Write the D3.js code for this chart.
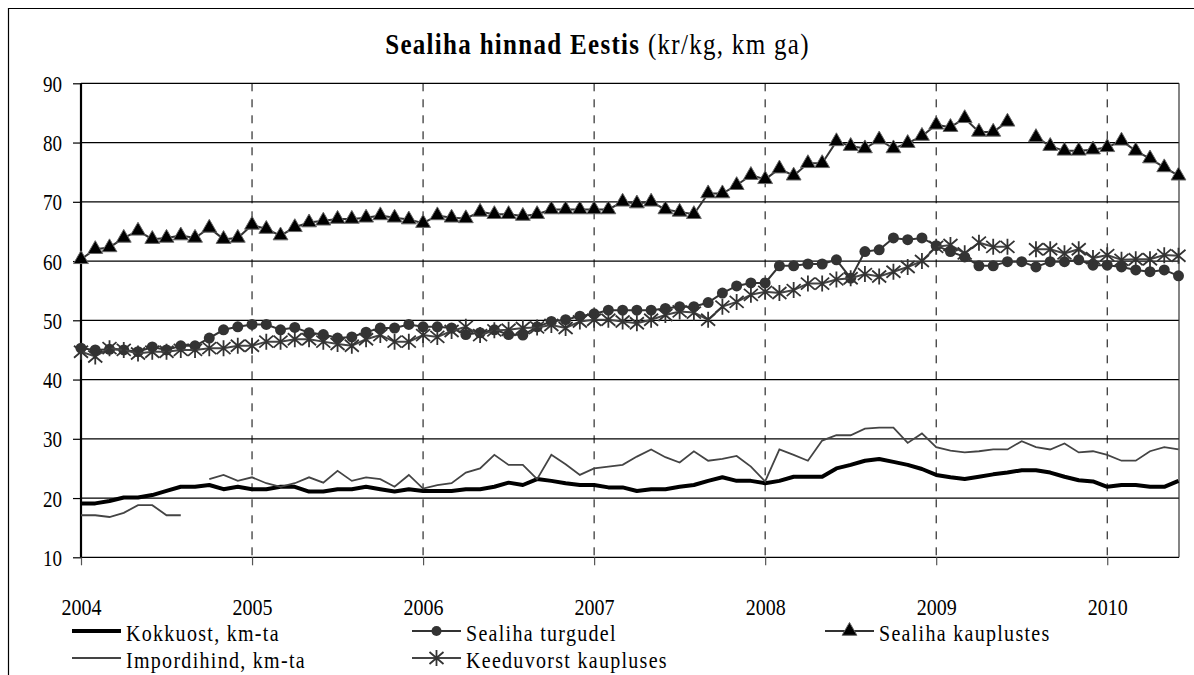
<!DOCTYPE html>
<html>
<head>
<meta charset="utf-8">
<script src="https://cdn.jsdelivr.net/npm/d3@7"></script>
<style>
  html, body { margin: 0; padding: 0; background: #fff; }
  svg { display: block; }
  text { font-family: "Liberation Serif", "Times New Roman", serif; fill: #000; }
</style>
</head>
<body>
<svg id="chart" width="1194" height="675"></svg>
<script>
// ---- data (monthly, Jan 2004 .. Jun 2010) ----
const startYear = 2004;
const yearLabels = ["2004", "2005", "2006", "2007", "2008", "2009", "2010"];
const yTicks = [10, 20, 30, 40, 50, 60, 70, 80, 90];

const kokkuost = [19.1,19.1,19.5,20.1,20.1,20.5,21.2,21.9,21.9,22.2,21.5,21.9,
  21.5,21.5,21.9,21.9,21.1,21.1,21.5,21.5,21.9,21.5,21.1,21.5,
  21.2,21.2,21.2,21.5,21.5,21.9,22.6,22.2,23.2,22.9,22.5,22.2,
  22.2,21.8,21.8,21.2,21.5,21.5,21.9,22.2,22.9,23.5,22.9,22.9,
  22.5,22.9,23.6,23.6,23.6,25.0,25.6,26.3,26.6,26.1,25.6,24.9,
  23.9,23.5,23.2,23.6,24.0,24.3,24.7,24.7,24.3,23.6,23.0,22.8,
  21.9,22.2,22.2,21.9,21.9,22.9];

const impordihind = [17.1,17.1,16.8,17.5,18.8,18.8,17.1,17.1,null,23.2,23.9,22.9,
  23.5,22.5,21.9,22.5,23.5,22.6,24.6,22.9,23.5,23.2,21.9,23.9,
  21.6,22.2,22.5,24.3,25.0,27.3,25.6,25.6,23.2,27.3,25.7,23.9,
  25.0,25.3,25.6,27.0,28.2,26.9,26.0,27.9,26.3,26.6,27.1,25.3,
  22.8,28.2,27.3,26.3,29.7,30.6,30.6,31.7,31.9,31.9,29.3,30.9,
  28.6,28.0,27.7,27.9,28.2,28.2,29.6,28.6,28.2,29.2,27.7,27.9,
  27.3,26.3,26.3,27.9,28.6,28.2];

const turgudel = [45.3,45.0,45.1,45.0,44.7,45.5,45.0,45.7,45.7,47.0,48.4,48.9,
  49.3,49.3,48.4,48.8,47.9,47.6,47.0,47.2,48.0,48.7,48.7,49.3,
  48.9,48.9,48.7,47.6,47.9,48.4,47.6,47.5,48.9,49.8,50.1,50.7,
  51.1,51.7,51.7,51.7,51.7,52.0,52.3,52.3,53.0,54.6,55.8,56.3,
  56.3,59.2,59.2,59.5,59.5,60.2,57.1,61.6,61.9,63.9,63.6,63.9,
  62.6,61.6,60.7,59.2,59.2,59.9,59.9,59.0,59.9,59.9,60.2,59.3,
  59.3,59.0,58.5,58.2,58.5,57.5];

const kauplustes = [60.3,62.0,62.3,63.9,65.1,63.7,63.9,64.3,63.9,65.6,63.7,63.9,
  66.1,65.4,64.3,65.7,66.5,66.8,67.1,67.1,67.3,67.7,67.3,67.0,
  66.4,67.7,67.3,67.2,68.3,67.9,67.9,67.6,67.9,68.7,68.7,68.7,
  68.7,68.7,70.0,69.7,70.0,68.7,68.3,67.9,71.4,71.4,72.8,74.5,
  73.8,75.6,74.4,76.5,76.5,80.2,79.4,79.0,80.5,79.0,79.9,81.1,
  83.0,82.6,84.1,81.8,81.8,83.5,null,80.9,79.4,78.6,78.6,78.8,
  79.2,80.3,78.6,77.3,75.8,74.4];

const keeduvorst = [44.7,43.9,45.3,45.0,44.4,44.7,44.7,45.0,45.0,45.3,45.3,45.7,
  45.7,46.4,46.4,46.8,46.8,46.4,46.0,45.7,46.8,47.5,46.4,46.4,
  47.5,47.2,48.2,48.9,47.5,48.3,48.4,48.7,48.8,49.2,48.7,49.8,
  50.1,50.1,49.8,49.5,50.1,50.9,51.5,51.3,50.1,52.3,53.1,54.3,
  54.8,54.6,55.1,56.2,56.2,56.9,57.1,57.8,57.4,58.2,59.0,60.0,
  62.4,62.7,61.3,63.1,62.4,62.4,null,62.0,62.0,61.3,62.0,60.5,
  61.0,60.2,60.3,60.3,61.0,60.9];

const seriesNames = ["Kokkuost, km-ta", "Sealiha turgudel", "Sealiha kauplustes",
                     "Impordihind, km-ta", "Keeduvorst kaupluses"];

// ---- layout ----
const svg = d3.select("#chart");
const L = 81, R = 1178.5, T = 83.3, B = 557.3;
const nMonths = kokkuost.length;

const x = d3.scaleLinear().domain([0, nMonths - 1]).range([L, R]);
const y = d3.scaleLinear().domain([10, 90]).range([B, T]);

// outer frame (left & top visible)
svg.append("path").attr("d", "M8.5,700 V8.5 H1200")
  .attr("fill", "none").attr("stroke", "#000").attr("stroke-width", 1.2);

// helper for stretched serif text
function stext(parent, tx, ty, str, opts) {
  opts = opts || {};
  const t = parent.append("text")
    .attr("transform", `translate(${tx},${ty}) scale(1,${opts.sy || 1.22})`)
    .attr("text-anchor", opts.anchor || "start")
    .style("font-size", (opts.size || 20) + "px")
    .style("letter-spacing", (opts.ls || 0) + "px");
  if (opts.weight) t.style("font-weight", opts.weight);
  if (str != null) t.text(str);
  return t;
}

// title
const title = stext(svg, 597.5, 54, null, {anchor: "middle", size: 25, ls: 1.3, sy: 1.2});
title.append("tspan").style("font-weight", "bold").text("Sealiha hinnad Eestis");
title.append("tspan").text(" (kr/kg, km ga)");

// horizontal gridlines
const yearIdx = yearLabels.map((d, i) => i * 12);
svg.append("g").selectAll("line").data(yTicks).join("line")
  .attr("x1", L).attr("x2", R + 0.5)
  .attr("y1", d => y(d)).attr("y2", d => y(d))
  .attr("stroke", "#000").attr("stroke-width", 1.2);

// vertical dashed year lines
svg.append("g").selectAll("line").data(yearIdx.slice(1)).join("line")
  .attr("x1", d => x(d)).attr("x2", d => x(d))
  .attr("y1", T).attr("y2", B)
  .attr("stroke", "#000").attr("stroke-width", 1)
  .attr("stroke-dasharray", "8,8");

// right border
svg.append("line").attr("x1", R + 0.5).attr("x2", R + 0.5).attr("y1", T).attr("y2", B)
  .attr("stroke", "#333").attr("stroke-width", 1.2);

// axes
const xAxis = d3.axisBottom(x).tickValues(yearIdx).tickSize(8)
  .tickFormat(d => String(startYear + d / 12));
const gx = svg.append("g").attr("transform", `translate(0,${B})`).call(xAxis);
gx.select(".domain").remove();
gx.selectAll(".tick line").attr("stroke", "#555").attr("stroke-width", 1.2);
gx.selectAll(".tick text")
  .attr("y", null).attr("dy", null)
  .attr("transform", "translate(0,58) scale(1,1.15)")
  .attr("fill", "#000")
  .style("font-family", '"Liberation Serif", serif')
  .style("font-size", "20px");

const yAxis = d3.axisLeft(y).tickValues(yTicks).tickSize(8).tickFormat(d3.format("d"));
const gy = svg.append("g").attr("transform", `translate(${L},0)`).call(yAxis);
gy.select(".domain").attr("stroke", "#000").attr("stroke-width", 2.2)
  .attr("d", `M0,${T}V${B}`);
gy.selectAll(".tick line").attr("stroke", "#000").attr("stroke-width", 1.2);
gy.selectAll(".tick text")
  .attr("x", null).attr("dy", null)
  .attr("transform", "translate(-19,8) scale(1,1.25)")
  .attr("fill", "#000")
  .style("font-family", '"Liberation Serif", serif')
  .style("font-size", "19px");

// line generator
const line = d3.line()
  .defined(d => d != null)
  .x((d, i) => x(i))
  .y(d => y(d));
function idxData(arr) { return arr.map((v, i) => ({v, i})).filter(d => d.v != null); }

const plot = svg.append("g");

// Kokkuost - thick black
plot.append("path").datum(kokkuost).attr("d", line)
  .attr("fill", "none").attr("stroke", "#000").attr("stroke-width", 4)
  .attr("stroke-linejoin", "round");
// Impordihind - thin grey
plot.append("path").datum(impordihind).attr("d", line)
  .attr("fill", "none").attr("stroke", "#444").attr("stroke-width", 1.8);

// marker shapes
const triPath = d3.symbol().type(d3.symbolTriangle).size(95)();
const starPath = "M0,-8V8M-7,-6L7,6M-7,6L7,-6";

// Sealiha turgudel - circles
plot.append("path").datum(turgudel).attr("d", line)
  .attr("fill", "none").attr("stroke", "#333").attr("stroke-width", 2);
plot.append("g").selectAll("circle").data(idxData(turgudel)).join("circle")
  .attr("cx", d => x(d.i)).attr("cy", d => y(d.v)).attr("r", 5.5)
  .attr("fill", "#333");

// Sealiha kauplustes - triangles
plot.append("path").datum(kauplustes).attr("d", line)
  .attr("fill", "none").attr("stroke", "#333").attr("stroke-width", 2);
plot.append("g").selectAll("path").data(idxData(kauplustes)).join("path")
  .attr("d", triPath)
  .attr("transform", d => `translate(${x(d.i)},${y(d.v)})`)
  .attr("fill", "#000").attr("stroke", "#666").attr("stroke-width", 1);

// Keeduvorst kaupluses - stars
plot.append("path").datum(keeduvorst).attr("d", line)
  .attr("fill", "none").attr("stroke", "#444").attr("stroke-width", 2);
plot.append("g").selectAll("path").data(idxData(keeduvorst)).join("path")
  .attr("d", starPath)
  .attr("transform", d => `translate(${x(d.i)},${y(d.v)})`)
  .attr("fill", "none").attr("stroke", "#333").attr("stroke-width", 1.8);

// ---- legend ----
const legendItems = [
  {name: seriesNames[0], x: 72, y: 631, stroke: "#000", w: 4, marker: null},
  {name: seriesNames[1], x: 412, y: 631, stroke: "#333", w: 2, marker: "circle"},
  {name: seriesNames[2], x: 825, y: 631, stroke: "#333", w: 2, marker: "tri"},
  {name: seriesNames[3], x: 72, y: 658, stroke: "#444", w: 1.8, marker: null},
  {name: seriesNames[4], x: 412, y: 658, stroke: "#444", w: 2, marker: "star"}
];
const lg = svg.append("g");
legendItems.forEach(it => {
  const g = lg.append("g");
  g.append("line").attr("x1", it.x).attr("x2", it.x + 49).attr("y1", it.y).attr("y2", it.y)
    .attr("stroke", it.stroke).attr("stroke-width", it.w);
  const cx = it.x + 24.5;
  if (it.marker === "circle") {
    g.append("circle").attr("cx", cx).attr("cy", it.y).attr("r", 5).attr("fill", "#333");
  } else if (it.marker === "tri") {
    g.append("path").attr("d", triPath).attr("transform", `translate(${cx},${it.y})`)
      .attr("fill", "#000").attr("stroke", "#666");
  } else if (it.marker === "star") {
    g.append("path").attr("d", starPath).attr("transform", `translate(${cx},${it.y})`)
      .attr("fill", "none").attr("stroke", "#333").attr("stroke-width", 1.8);
  }
  stext(g, it.x + 54, it.y + 9.5, it.name, {size: 20, ls: 1.3, sy: 1.12});
});
</script>
</body>
</html>
